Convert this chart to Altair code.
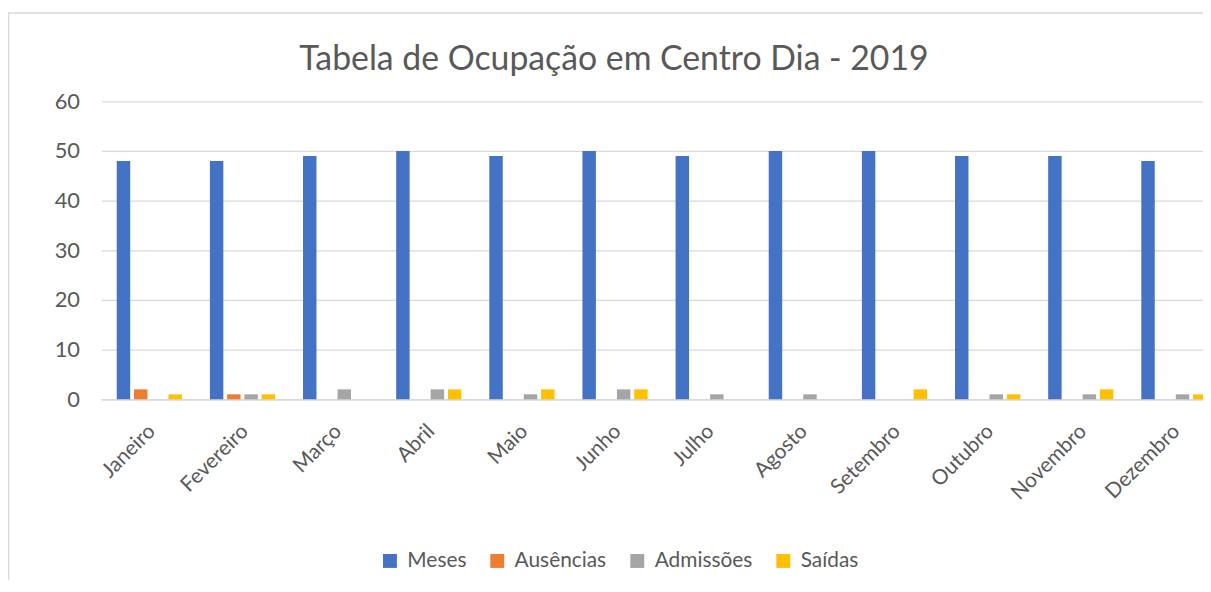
import altair as alt
import pandas as pd

months = ["Janeiro", "Fevereiro", "Março", "Abril", "Maio", "Junho", "Julho",
          "Agosto", "Setembro", "Outubro", "Novembro", "Dezembro"]
series = ["Meses", "Ausências", "Admissões", "Saídas"]
colors = ["#4472C4", "#ED7D31", "#A5A5A5", "#FFC000"]
meses = [48, 48, 49, 50, 49, 50, 49, 50, 50, 49, 49, 48]
ausencias = [2, 1, 0, 0, 0, 0, 0, 0, 0, 0, 0, 0]
admissoes = [0, 1, 2, 2, 1, 2, 1, 1, 0, 1, 1, 1]
saidas = [1, 1, 0, 2, 2, 2, 0, 0, 2, 1, 2, 1]

rows = []
for name, vals in zip(series, [meses, ausencias, admissoes, saidas]):
    for m, v in zip(months, vals):
        rows.append({"Mês": m, "Série": name, "Valor": v})
df = pd.DataFrame(rows)

FONT = "Lato"
GREY = "#595959"

bars = alt.Chart(df).mark_bar().encode(
    x=alt.X("Mês:N", sort=months,
            scale=alt.Scale(paddingInner=0.3, paddingOuter=0.165,
                            range=[0, 1128]),
            axis=alt.Axis(title=None, labelAngle=-45, labelFontSize=21,
                          labelColor=GREY, labelFont=FONT, ticks=False,
                          domainColor="#D9D9D9", domainWidth=1.5,
                          labelPadding=21, labelOffset=-5)),
    xOffset=alt.XOffset("Série:N", sort=series,
                        scale=alt.Scale(paddingInner=0.22)),
    y=alt.Y("Valor:Q", scale=alt.Scale(domain=[0, 60]),
            axis=alt.Axis(title=None, values=[0, 10, 20, 30, 40, 50, 60],
                          labelFontSize=22, labelColor=GREY, labelFont=FONT,
                          ticks=False, domain=False, gridColor="#D9D9D9",
                          gridWidth=1.3, labelPadding=22)),
    color=alt.Color("Série:N", sort=series,
                    scale=alt.Scale(domain=series, range=colors),
                    legend=alt.Legend(title=None, orient="none",
                                      direction="horizontal",
                                      legendX=280, legendY=452,
                                      symbolType="square", symbolSize=196,
                                      symbolStrokeWidth=0, labelOffset=7,
                                      labelFontSize=21, labelColor=GREY,
                                      labelFont=FONT, columnPadding=20)),
)

border = alt.Chart(pd.DataFrame({"b": [0]})).mark_rect(
    fill=None, stroke="#D9D9D9", strokeWidth=1.5
).encode(
    x=alt.value(-93.5), x2=alt.value(1300),
    y=alt.value(-89), y2=alt.value(700),
)

chart = alt.layer(border, bars).properties(
    width=1108,
    height=300,
    title=alt.Title("Tabela de Ocupação em Centro Dia - 2019",
                    fontSize=34, font=FONT, color=GREY, fontWeight="normal",
                    anchor="middle", frame="group", dx=-38, dy=85, offset=20),
    autosize=alt.AutoSizeParams(type="none"),
    padding={"left": 94, "top": 92, "right": 1, "bottom": 180},
).configure_view(stroke=None)

chart.save("out.html", embed_options={"renderer": "svg", "actions": False})
